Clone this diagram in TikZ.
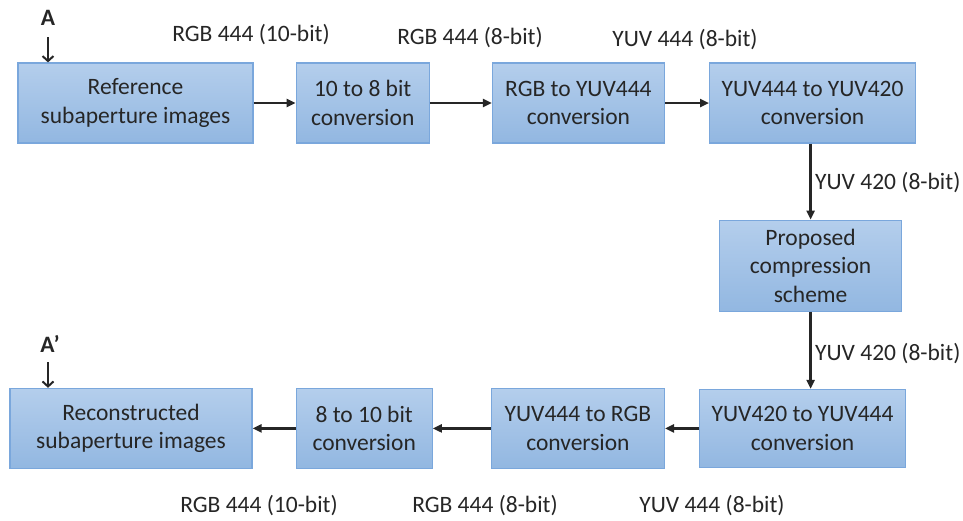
\documentclass[tikz,border=0pt]{standalone}
\usepackage{fontspec}
\setmainfont{Carlito}
\usetikzlibrary{positioning,arrows.meta}
\definecolor{boxtop}{HTML}{B4CEEC}
\definecolor{boxbot}{HTML}{92B7E1}
\definecolor{boxline}{HTML}{7AA7DC}
\definecolor{ink}{HTML}{262626}
\begin{document}
\begin{tikzpicture}[
      x=1pt, y=-1pt,
      every node/.style={font=\fontsize{23.5pt}{28.5pt}\selectfont, align=center, text=ink},
      blk/.style={rectangle, draw=boxline, line width=1.2pt, top color=boxtop,
                  bottom color=boxbot, minimum height=80pt, inner sep=2pt},
      arr/.style={-{Triangle[length=9pt, width=8pt]}, line width=2.6pt, black!85},
      entry/.style={-{Straight Barb[length=5pt, width=11pt, line width=2pt]}, line width=2.4pt, black!85},
      lbl/.style={inner sep=0pt},
    ]
    \useasboundingbox (0,0) rectangle (963,520);
    % forward chain, top row
    \node[blk, minimum width=235pt] (ref) at (135.5,103) {Reference\\subaperture images};
    \node[blk, minimum width=133pt, right=42pt of ref] (tenbit) {10 to 8 bit\\conversion};
    \node[blk, minimum width=172pt, right=62pt of tenbit] (toyuv) {RGB to YUV444\\conversion};
    \node[blk, minimum width=206pt, right=44pt of toyuv] (down) {YUV444 to YUV420\\conversion};
    % the codec
    \node[blk, minimum width=182pt, minimum height=91pt, below=76pt of down, xshift=-2pt] (codec)
      {Proposed\\compression\\scheme};
    % backward chain, bottom row
    \node[blk, minimum width=206pt, minimum height=78pt, below=77pt of codec, xshift=-8pt] (up)
      {YUV420 to YUV444\\conversion};
    \node[blk, minimum width=173pt, left=34pt of up] (torgb) {YUV444 to RGB\\conversion};
    \node[blk, minimum width=136pt, left=58pt of torgb] (eightbit) {8 to 10 bit\\conversion};
    \node[blk, minimum width=242pt, left=43pt of eightbit] (recon) {Reconstructed\\subaperture images};
    % entry and exit marks
    \node[lbl, font=\fontsize{23.5pt}{28.5pt}\selectfont\bfseries] (a) at (48,18) {A};
    \node[lbl, font=\fontsize{23.5pt}{28.5pt}\selectfont\bfseries] (aa) at (50,344) {A’};
    \coordinate (ain) at (48,37);
    \coordinate (aout) at (48,362);
    % format labels
    \node[lbl] (l1) at (251,35) {RGB 444 (10-bit)};
    \node[lbl] (l2) at (470,38) {RGB 444 (8-bit)};
    \node[lbl] (l3) at (685,40) {YUV 444 (8-bit)};
    \node[lbl, anchor=west] (l4) at (815,183) {YUV 420 (8-bit)};
    \node[lbl, anchor=west] (l5) at (815,354) {YUV 420 (8-bit)};
    \node[lbl] (l6) at (259,506) {RGB 444 (10-bit)};
    \node[lbl] (l7) at (485,506) {RGB 444 (8-bit)};
    \node[lbl] (l8) at (712,506) {YUV 444 (8-bit)};
    \draw[entry] (ain) -- (ain |- ref.north);
    \draw[entry] (aout) -- (aout |- recon.north);
    \draw[arr] (ref) -- (tenbit);
    \draw[arr] (tenbit) -- (toyuv);
    \draw[arr] (toyuv) -- (down);
    \draw[arr] (codec.north |- down.south) -- (codec.north);
    \draw[arr] (codec.south) -- (codec.south |- up.north);
    \draw[arr] (up) -- (torgb);
    \draw[arr] (torgb) -- (eightbit);
    \draw[arr] (eightbit) -- (recon);
  \end{tikzpicture}
\end{document}
